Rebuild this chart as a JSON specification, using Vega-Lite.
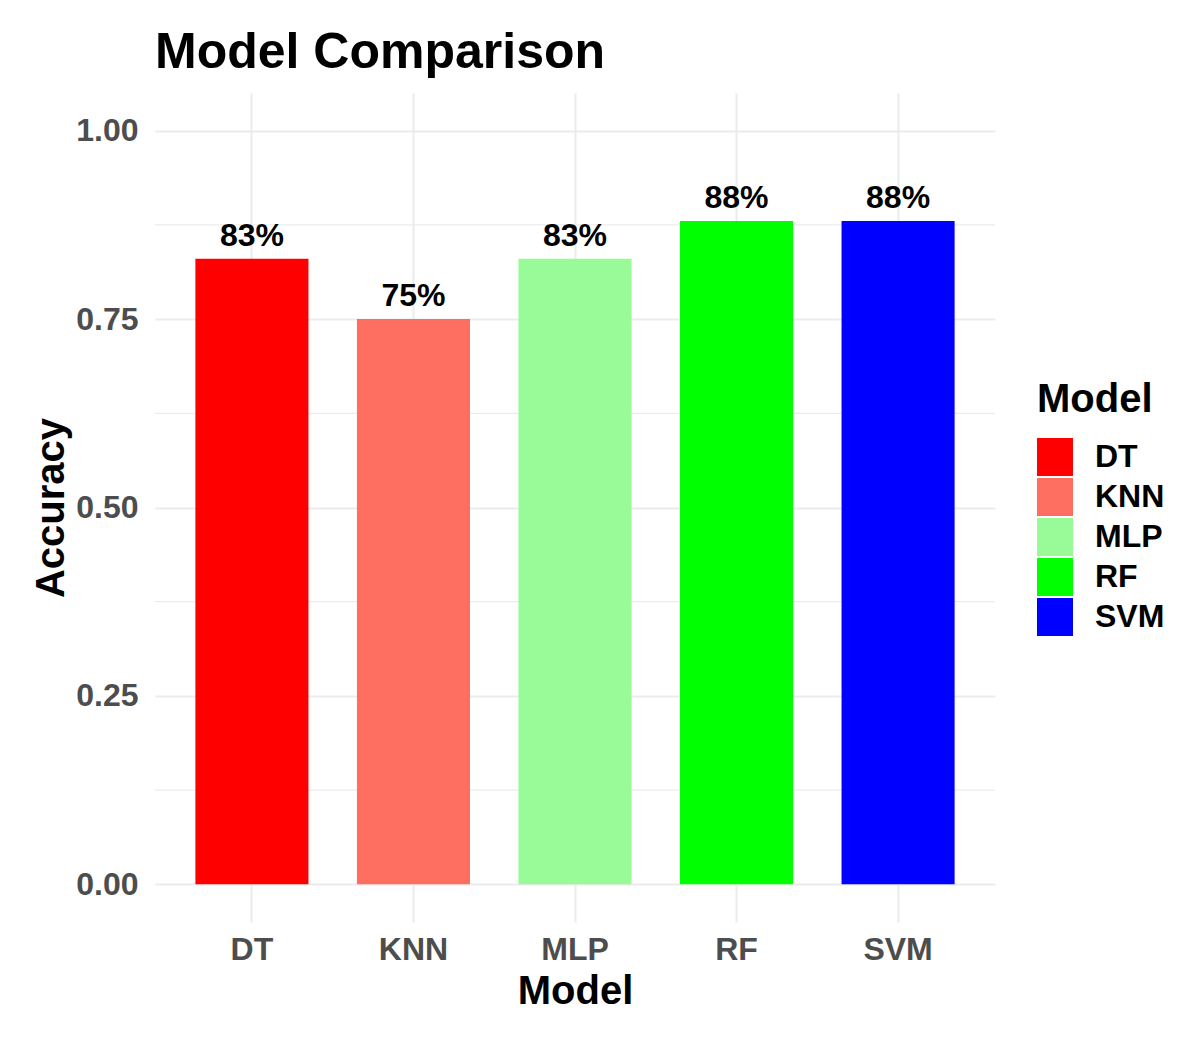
{
  "$schema": "https://vega.github.io/schema/vega-lite/v6.json",
  "description": "Model Comparison: accuracy by model.",
  "width": 840,
  "height": 829,
  "autosize": {"type": "none"},
  "padding": {"left": 155, "top": 93, "right": 205, "bottom": 117},
  "background": "white",
  "title": {
    "text": "Model Comparison",
    "anchor": "start",
    "frame": "group",
    "fontSize": 50,
    "fontWeight": "bold",
    "color": "black",
    "baseline": "alphabetic",
    "offset": 23,
    "dy": 48
  },
  "layer": [
    {
      "data": {"values": [{"m": 0.125}, {"m": 0.375}, {"m": 0.625}, {"m": 0.875}]},
      "mark": {"type": "rule", "color": "#EBEBEB", "strokeWidth": 1.2},
      "encoding": {
        "y": {
          "field": "m",
          "type": "quantitative",
          "title": "Accuracy",
          "scale": {"domain": [-0.05, 1.05], "nice": false, "zero": false},
          "axis": {"values": [0, 0.25, 0.5, 0.75, 1], "format": ".2f"}
        }
      }
    },
    {
      "data": {
        "values": [
          {"Model": "DT", "Accuracy": 0.83},
          {"Model": "KNN", "Accuracy": 0.75},
          {"Model": "MLP", "Accuracy": 0.83},
          {"Model": "RF", "Accuracy": 0.88},
          {"Model": "SVM", "Accuracy": 0.88}
        ]
      },
      "encoding": {
        "x": {
          "field": "Model",
          "type": "nominal",
          "title": "Model",
          "scale": {"paddingInner": 0.3, "paddingOuter": 0.25},
          "axis": {"labelAngle": 0, "bandPosition": 0.5}
        },
        "y": {
          "field": "Accuracy",
          "type": "quantitative",
          "title": "Accuracy",
          "scale": {"domain": [-0.05, 1.05], "nice": false, "zero": false},
          "axis": {"values": [0, 0.25, 0.5, 0.75, 1], "format": ".2f"}
        }
      },
      "layer": [
        {
          "mark": {"type": "bar"},
          "encoding": {
            "y2": {"datum": 0},
            "color": {
              "field": "Model",
              "type": "nominal",
              "title": "Model",
              "scale": {
                "domain": ["DT", "KNN", "MLP", "RF", "SVM"],
                "range": ["#FF0000", "#FF6F61", "#98FB98", "#00FF00", "#0000FF"]
              }
            }
          }
        },
        {
          "mark": {
            "type": "text",
            "baseline": "alphabetic",
            "dy": -13,
            "fontSize": 32,
            "fontWeight": "bold",
            "color": "black"
          },
          "encoding": {
            "text": {"field": "Accuracy", "type": "quantitative", "format": ".0%"}
          }
        }
      ]
    }
  ],
  "config": {
    "font": "Liberation Sans",
    "view": {"stroke": null},
    "axis": {
      "domain": false,
      "ticks": false,
      "grid": true,
      "gridColor": "#EBEBEB",
      "gridWidth": 2,
      "labelFontSize": 32,
      "labelFontWeight": "bold",
      "labelColor": "#4D4D4D",
      "titleFontSize": 40,
      "titleFontWeight": "bold",
      "titleColor": "black"
    },
    "axisX": {"labelPadding": 12, "titlePadding": 6},
    "axisY": {"labelPadding": 17, "titlePadding": 4},
    "legend": {
      "orient": "none",
      "legendX": 882,
      "legendY": 287,
      "padding": 0,
      "titleFontSize": 40,
      "titleFontWeight": "bold",
      "titleColor": "black",
      "titlePadding": 19,
      "labelFontSize": 32,
      "labelFontWeight": "bold",
      "labelColor": "black",
      "labelOffset": 22,
      "symbolType": "M-1,-1.056H1V1.056H-1Z",
      "symbolSize": 1296,
      "symbolStrokeWidth": 0,
      "symbolOpacity": 1,
      "rowPadding": 0
    }
  }
}
